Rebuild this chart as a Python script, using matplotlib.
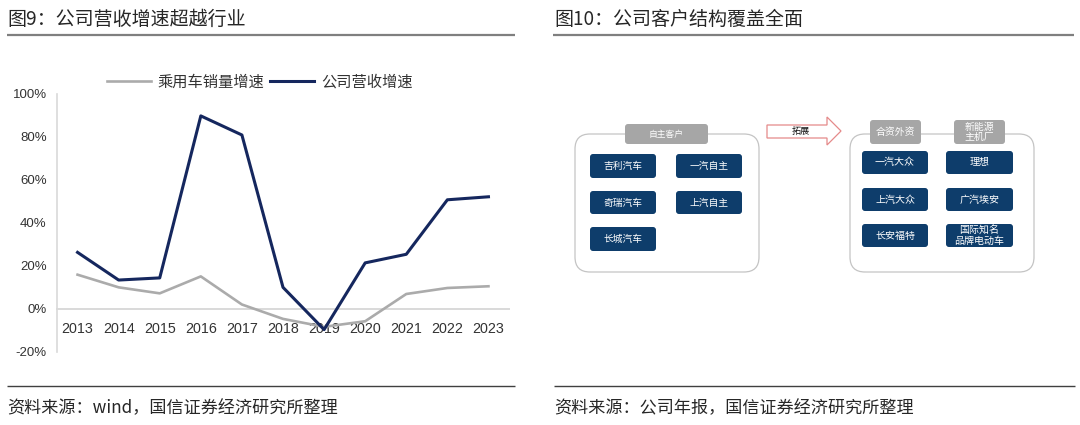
import matplotlib
matplotlib.use("Agg")
import matplotlib.pyplot as plt
from matplotlib.patches import FancyBboxPatch, Polygon
from matplotlib.lines import Line2D

plt.rcParams['font.family'] = ['Noto Sans CJK SC', 'DejaVu Sans']

# ---------------- data ----------------
years = ['2013', '2014', '2015', '2016', '2017', '2018', '2019', '2020', '2021', '2022', '2023']
industry_growth = [15.8, 9.9, 7.1, 15.0, 1.9, -4.8, -8.5, -5.9, 6.8, 9.6, 10.4]
company_growth = [26.2, 13.3, 14.3, 89.8, 80.9, 9.9, -9.8, 21.3, 25.3, 50.7, 52.1]
series_names = ['乘用车销量增速', '公司营收增速']
y_ticks = [-20, 0, 20, 40, 60, 80, 100]
y_tick_labels = ['-20%', '0%', '20%', '40%', '60%', '80%', '100%']

title_left = '图9：公司营收增速超越行业'
title_right = '图10：公司客户结构覆盖全面'
source_left = '资料来源：wind，国信证券经济研究所整理'
source_right = '资料来源：公司年报，国信证券经济研究所整理'

group_left_label = '自主客户'
group_left_items = ['吉利汽车', '一汽自主', '奇瑞汽车', '上汽自主', '长城汽车']
arrow_label = '拓展'
group_right_labels = ['合资外资', '新能源\n主机厂']
group_right_items = ['一汽大众', '理想', '上汽大众', '广汽埃安', '长安福特', '国际知名\n品牌电动车']

# ---------------- style ----------------
NAVY = '#15275e'
GRAY_LINE = '#ababab'
BOX_BLUE = '#0e3d6b'
LABEL_GRAY = '#a6a6a6'
TEXT = '#262626'

W, H = 1080, 425
fig = plt.figure(figsize=(W / 100, H / 100), dpi=100)

# background / layout layer in pixel coordinates
bg = fig.add_axes([0, 0, 1, 1])
bg.set_xlim(0, W)
bg.set_ylim(H, 0)
bg.axis('off')

# titles
bg.text(7, 19, title_left, fontsize=13.7, color=TEXT, va='center', ha='left')
bg.text(554, 19, title_right, fontsize=13.7, color=TEXT, va='center', ha='left')
bg.plot([7, 515], [35, 35], color='#7f7f7f', lw=1.6, solid_capstyle='butt')
bg.plot([553, 1074], [35, 35], color='#7f7f7f', lw=1.6, solid_capstyle='butt')

# sources
bg.plot([7, 515], [386, 386], color='#404040', lw=1.0, solid_capstyle='butt')
bg.plot([554, 1075], [386, 386], color='#404040', lw=1.0, solid_capstyle='butt')
bg.text(7, 408, source_left, fontsize=12.3, color=TEXT, va='center', ha='left')
bg.text(554, 408, source_right, fontsize=12.3, color=TEXT, va='center', ha='left')


# ---------------- diagram ----------------
def rbox(x0, y0, x1, y1, fc, ec, lw, r, z):
    p = FancyBboxPatch((x0 + r, y0 + r), (x1 - x0) - 2 * r, (y1 - y0) - 2 * r,
                       boxstyle='round,pad=%f' % r, fc=fc, ec=ec, lw=lw, zorder=z)
    bg.add_patch(p)


# outer containers
rbox(575, 134, 759, 272, 'white', '#c4c4c4', 0.9, 15, 1)
rbox(850, 134, 1034, 272, 'white', '#c4c4c4', 0.9, 15, 1)

# group labels
rbox(625, 124, 708, 144, LABEL_GRAY, 'none', 0, 3, 2)
bg.text(666.5, 134, group_left_label, fontsize=6.3, color='white', ha='center', va='center', zorder=3)
right_label_x = [(870, 921), (954, 1005)]
for (x0, x1), lab in zip(right_label_x, group_right_labels):
    rbox(x0, 120, x1, 144, LABEL_GRAY, 'none', 0, 3, 2)
    bg.text((x0 + x1) / 2, 132, lab, fontsize=7.1, color='white', ha='center', va='center',
            linespacing=1.0, zorder=3)

# left items
left_cols = [(590, 656), (676, 742)]
left_rows = [(154, 178), (191, 214), (227, 251)]
for i, name in enumerate(group_left_items):
    (x0, x1) = left_cols[i % 2]
    (y0, y1) = left_rows[i // 2]
    rbox(x0, y0, x1, y1, BOX_BLUE, 'none', 0, 3, 2)
    bg.text((x0 + x1) / 2, (y0 + y1) / 2, name, fontsize=7.0, color='white',
            ha='center', va='center', zorder=3)

# right items
right_cols = [(862, 928), (946, 1013)]
right_rows = [(151, 174), (188, 211), (224, 247)]
for i, name in enumerate(group_right_items):
    (x0, x1) = right_cols[i % 2]
    (y0, y1) = right_rows[i // 2]
    rbox(x0, y0, x1, y1, BOX_BLUE, 'none', 0, 3, 2)
    bg.text((x0 + x1) / 2, (y0 + y1) / 2, name, fontsize=7.2, color='white',
            ha='center', va='center', linespacing=1.05, zorder=3)

# arrow
arrow = Polygon([(767, 125), (827, 125), (827, 117), (841, 131), (827, 145),
                 (827, 138), (767, 138)], closed=True, fc='white', ec='#e58a8a', lw=0.9, zorder=2)
bg.add_patch(arrow)
bg.text(801, 131, arrow_label, fontsize=6.6, color='#111111', ha='center', va='center', zorder=3)

# ---------------- line chart ----------------
ax = fig.add_axes([57 / W, (H - 351.5) / H, (509 - 57) / W, (351.5 - 94) / H])
ax.patch.set_alpha(0)
x = list(range(len(years)))
ax.plot(x, industry_growth, color=GRAY_LINE, lw=1.9, label=series_names[0], zorder=3)
ax.plot(x, company_growth, color=NAVY, lw=2.2, label=series_names[1], zorder=4)
ax.set_xlim(-0.5, 10.5)
ax.set_ylim(-20, 100)
ax.set_yticks(y_ticks)
ax.set_yticklabels(y_tick_labels)
ax.set_xticks(x)
ax.set_xticklabels(years)
for s in ['top', 'right']:
    ax.spines[s].set_visible(False)
ax.spines['bottom'].set_position(('data', 0))
ax.spines['bottom'].set_color('#d9d9d9')
ax.spines['bottom'].set_linewidth(1.4)
ax.spines['left'].set_color('#d9d9d9')
ax.spines['left'].set_linewidth(1.2)
ax.tick_params(axis='y', length=0, pad=7.5, labelsize=9.5, labelcolor='#333333')
ax.tick_params(axis='x', length=0, pad=9.5, labelsize=10.3, labelcolor='#333333')
for lab in ax.get_xticklabels() + ax.get_yticklabels():
    lab.set_family(['Liberation Sans', 'DejaVu Sans'])

fig.legend(loc='center', bbox_to_anchor=(259.5 / W, (H - 82) / H), ncol=2, frameon=False,
           fontsize=11, handlelength=2.9, handletextpad=0.45, columnspacing=0.35,
           borderpad=0, labelcolor='#333333')

fig.savefig('out.png', dpi=100)
